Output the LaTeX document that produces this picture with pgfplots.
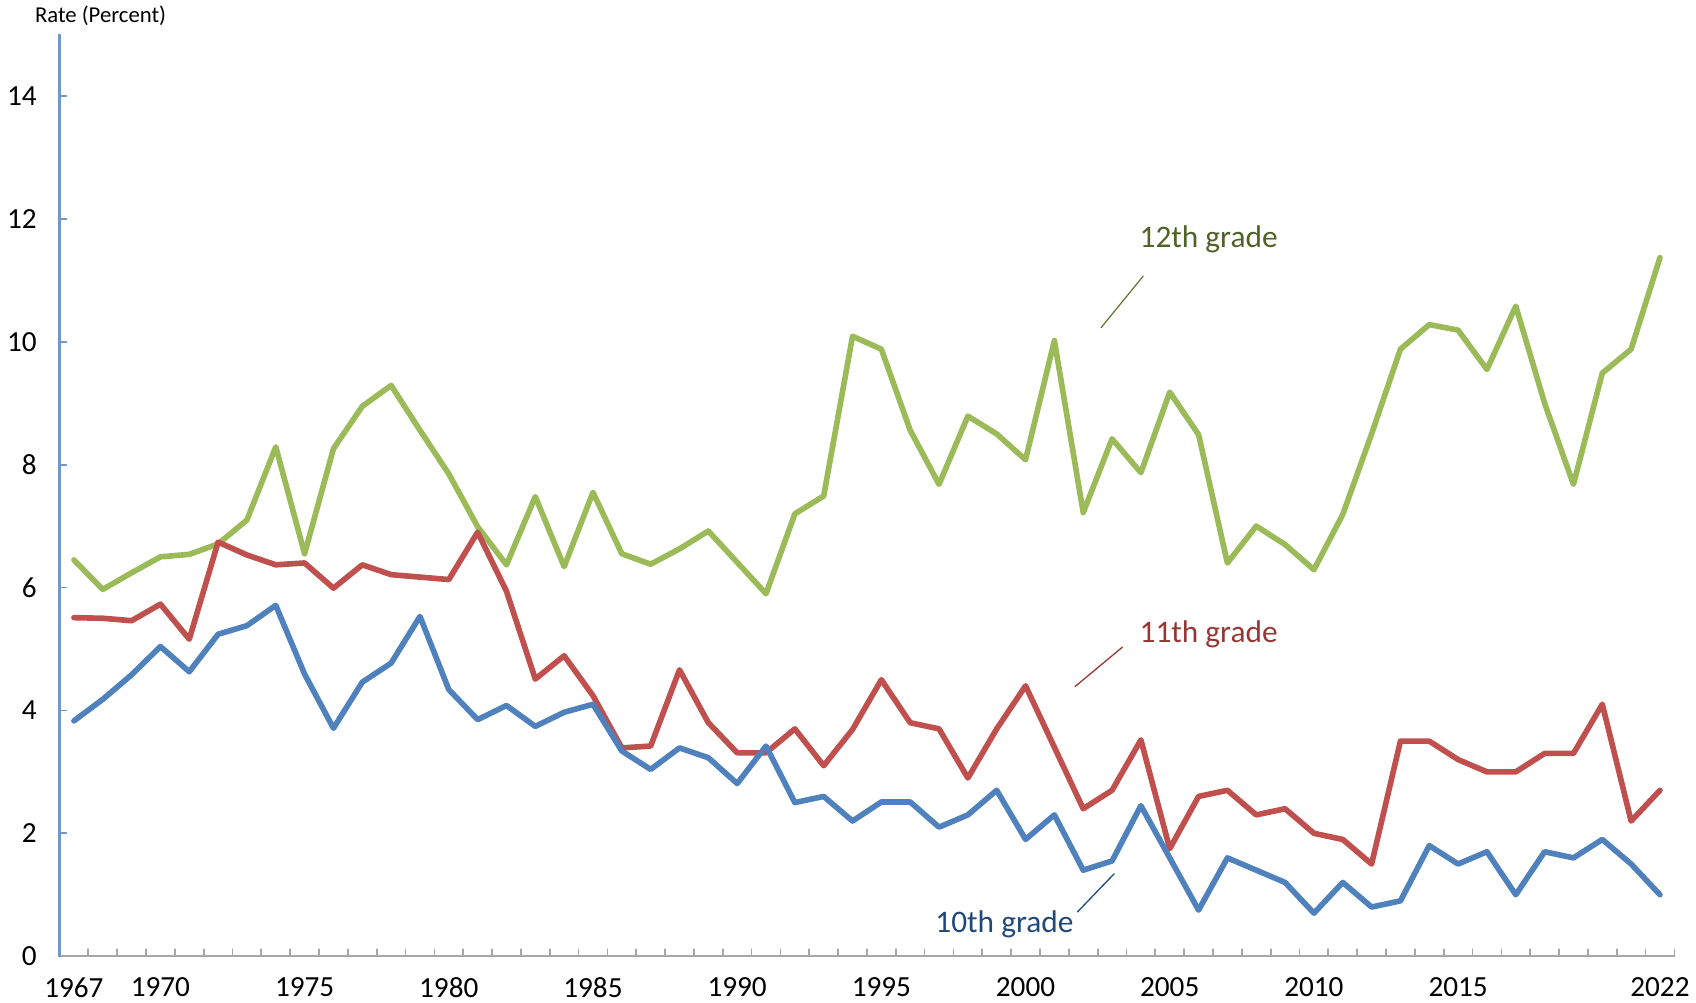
\documentclass[border=0pt]{standalone}
\usepackage{pgfplots}
\pgfplotsset{compat=1.18}
\usepackage{fontspec}
\setmainfont{Carlito}
\definecolor{g12}{HTML}{9BBB59}
\definecolor{r11}{HTML}{C0504D}
\definecolor{b10}{HTML}{4F81BD}
\definecolor{t12}{HTML}{4F6228}
\definecolor{t11}{HTML}{953735}
\definecolor{t10}{HTML}{1F497D}
\definecolor{yax}{HTML}{7396CB}
\definecolor{xax}{HTML}{A6A6A6}
\begin{document}
\begin{tikzpicture}
\begin{axis}[name=ax, scale only axis, width=746.5pt, height=426pt,
  xmin=1966.5, xmax=2022.5, ymin=0, ymax=15,
  axis x line*=bottom, axis y line*=left,
  x axis line style={draw=xax, line width=1pt, -},
  y axis line style={draw=yax, line width=1pt, -},
  xtick={1967,1970,1975,1980,1985,1990,1995,2000,2005,2010,2015,2022},
  xticklabels={1967,1970,1975,1980,1985,1990,1995,2000,2005,2010,2015,2022},
  major x tick style={draw=none},
  minor xtick={1966.5,1967.5,...,2022.5},
  minor x tick style={draw=xax, line width=0.8pt},
  minor tick length=3.2pt,
  ytick={0,2,...,14},
  y tick style={draw=yax, line width=0.8pt},
  major tick length=3.2pt,
  tick align=inside,
  tick label style={font=\fontsize{13.5}{16}\selectfont, text=black},
  xticklabel style={yshift=-6.5pt},
  yticklabel style={xshift=-7pt},
  /pgf/number format/assume math mode=true,
  /pgf/number format/1000 sep={},
  clip=false,
  line join=round, line cap=round,
]
\addplot[g12, line width=2.6pt] coordinates {
(1967,6.45)(1968,5.97)(1969,6.24)(1970,6.50)(1971,6.54)(1972,6.71)(1973,7.10)(1974,8.29)(1975,6.55)(1976,8.26)
(1977,8.95)(1978,9.29)(1979,8.56)(1980,7.85)(1981,6.99)(1982,6.37)(1983,7.48)(1984,6.34)(1985,7.55)(1986,6.55)
(1987,6.38)(1988,6.63)(1989,6.92)(1990,6.41)(1991,5.90)(1992,7.20)(1993,7.49)(1994,10.09)(1995,9.88)(1996,8.56)
(1997,7.68)(1998,8.79)(1999,8.50)(2000,8.08)(2001,10.02)(2002,7.22)(2003,8.42)(2004,7.87)(2005,9.18)(2006,8.49)
(2007,6.40)(2008,7.00)(2009,6.70)(2010,6.29)(2011,7.19)(2012,8.50)(2013,9.88)(2014,10.28)(2015,10.19)(2016,9.55)
(2017,10.58)(2018,9.00)(2019,7.68)(2020,9.49)(2021,9.88)(2022,11.37)};
\addplot[r11, line width=2.6pt] coordinates {
(1967,5.51)(1968,5.50)(1969,5.46)(1970,5.73)(1971,5.16)(1972,6.74)(1973,6.53)(1974,6.37)(1975,6.40)(1976,5.99)
(1977,6.37)(1978,6.21)(1979,6.17)(1980,6.13)(1981,6.90)(1982,5.94)(1983,4.51)(1984,4.89)(1985,4.24)(1986,3.39)
(1987,3.42)(1988,4.66)(1989,3.80)(1990,3.31)(1991,3.31)(1992,3.70)(1993,3.10)(1994,3.69)(1995,4.50)(1996,3.80)
(1997,3.70)(1998,2.90)(1999,3.70)(2000,4.40)(2001,3.40)(2002,2.40)(2003,2.70)(2004,3.52)(2005,1.75)(2006,2.60)
(2007,2.70)(2008,2.30)(2009,2.40)(2010,2.00)(2011,1.90)(2012,1.50)(2013,3.50)(2014,3.50)(2015,3.20)(2016,3.00)
(2017,3.00)(2018,3.30)(2019,3.30)(2020,4.10)(2021,2.20)(2022,2.70)};
\addplot[b10, line width=2.6pt] coordinates {
(1967,3.83)(1968,4.18)(1969,4.58)(1970,5.04)(1971,4.63)(1972,5.24)(1973,5.38)(1974,5.71)(1975,4.59)(1976,3.71)
(1977,4.46)(1978,4.77)(1979,5.53)(1980,4.34)(1981,3.85)(1982,4.08)(1983,3.74)(1984,3.97)(1985,4.10)(1986,3.34)
(1987,3.04)(1988,3.39)(1989,3.23)(1990,2.81)(1991,3.42)(1992,2.50)(1993,2.60)(1994,2.20)(1995,2.51)(1996,2.51)
(1997,2.10)(1998,2.30)(1999,2.70)(2000,1.90)(2001,2.30)(2002,1.40)(2003,1.55)(2004,2.45)(2005,1.60)(2006,0.75)
(2007,1.60)(2008,1.40)(2009,1.20)(2010,0.70)(2011,1.20)(2012,0.80)(2013,0.90)(2014,1.80)(2015,1.50)(2016,1.70)
(2017,1.00)(2018,1.70)(2019,1.60)(2020,1.90)(2021,1.50)(2022,1.00)};
% annotations
\node[anchor=base west, inner sep=0pt, text=t12, font=\fontsize{14.5}{17}\selectfont] at (axis cs:2003.94,11.53) {12th grade};
\node[anchor=base west, inner sep=0pt, text=t11, font=\fontsize{14.5}{17}\selectfont] at (axis cs:2003.94,5.10) {11th grade};
\node[anchor=base west, inner sep=0pt, text=t10, font=\fontsize{14.5}{17}\selectfont] at (axis cs:1996.86,0.39) {10th grade};
\draw[t12!70!g12, line width=0.6pt] (axis cs:2004.08,11.07) -- (axis cs:2002.62,10.23);
\draw[t11, line width=0.6pt] (axis cs:2003.36,5.03) -- (axis cs:2001.72,4.39);
\draw[t10, line width=0.6pt] (axis cs:2003.07,1.34) -- (axis cs:2001.80,0.72);
\end{axis}
\node[anchor=base west, inner sep=0pt, font=\fontsize{10.5}{12}\selectfont, xshift=-11.5pt, yshift=5.5pt] at (ax.north west) {Rate (Percent)};
\pgfresetboundingbox
\path ([xshift=-27.5pt,yshift=-21.5pt]ax.south west) rectangle ([xshift=10pt,yshift=16pt]ax.north east);
\end{tikzpicture}
\end{document}
